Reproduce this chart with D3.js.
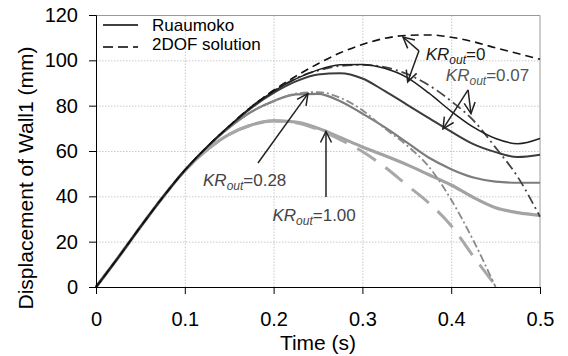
<!DOCTYPE html>
<html>
<head>
<meta charset="utf-8">
<script src="https://cdn.jsdelivr.net/npm/d3@7"></script>
<style>
  body { margin: 0; background: #fff; }
  svg { display: block; font-family: Arial, "Liberation Sans", sans-serif; }
  .grid line { stroke: #c8c8c8; stroke-dasharray: 1.5,1.5; }
  .grid .domain { display: none; }
  .axis text { font-size: 20px; fill: #000; }
  .axis path, .axis line { stroke: #000; }
</style>
</head>
<body>
<svg class="chart"></svg>
<script>
// time grid (s)
var times = [0, 0.025, 0.05, 0.075, 0.1, 0.125, 0.15, 0.175, 0.2, 0.225, 0.25,
             0.275, 0.3, 0.325, 0.35, 0.375, 0.4, 0.425, 0.45, 0.475, 0.5];

// displacement (mm), Ruaumoko
var ruaKR0   = [0, 13, 26.5, 39.5, 51.5, 61.8, 71, 79.5, 86.3, 91.8, 95.8,
                98, 98.2, 96.5, 92.5, 85.5, 77.5, 70.5, 65.5, 63.2, 65.5];
var ruaKR007 = [0, 13, 26.5, 39.5, 51.5, 61.8, 70.8, 79, 85.6, 90.7, 93.8,
                94.3, 92, 86.5, 80.5, 74.5, 68.5, 63, 59.5, 57.3, 58.3];
var ruaKR028 = [0, 13, 26.5, 39.5, 51.5, 61.6, 70.3, 77.3, 82, 85, 85.2,
                82, 76.5, 70.5, 63.8, 57, 52, 48.3, 46.5, 46, 46];
var ruaKR100 = [0, 13, 26.5, 39.5, 51.3, 60.5, 67.3, 71.5, 73.3, 72.8, 70,
                66, 61.8, 58, 54, 49.5, 45, 39.5, 35, 32.8, 31.6];

// displacement (mm), 2DOF solution
var dofKR0   = [0, 13, 26.5, 39.5, 51.5, 61.8, 71, 79.5, 86.8, 93, 98.5,
                103.3, 107, 109.7, 111, 111.2, 110.2, 108.2, 105.5, 103, 100.5];
var dofKR007 = [0, 13, 26.5, 39.5, 51.5, 61.8, 71, 79.5, 86.5, 92, 95.5,
                97.5, 98, 97, 94, 89, 82, 73.5, 61.5, 48.5, 31];
var dofKR028 = [0, 13, 26.5, 39.5, 51.5, 61.6, 70.3, 77.3, 82, 85.3, 86,
                83.5, 78, 70, 62.5, 53, 38.5, 20.5, 0];
var dofKR100 = [0, 13, 26.5, 39.5, 51.3, 60.5, 67.3, 71.5, 73.3, 72.5, 69.5,
                65, 59.8, 53, 45, 37, 27, 13.5, 0.5];

var xTicks = [0, 0.1, 0.2, 0.3, 0.4, 0.5];
var yTicks = [0, 20, 40, 60, 80, 100, 120];

var legendLabels = ["Ruaumoko", "2DOF solution"];

// annotation labels: text, value, label anchor [t, y], arrow start, arrow tips
var notes = [
    {value: "0",    at: [0.3713, 100.1], from: [0.3637, 104.2], tips: [[0.3457, 110.3], [0.351, 90.5]], color: "#1a1a1a"},
    {value: "0.07", at: [0.394, 90.8],   from: [0.419, 87],     tips: [[0.3908, 69.8], [0.4223, 76.5]], color: "#555"},
    {value: "0.28", at: [0.1205, 44.5],  from: [0.1824, 54.7],  tips: [[0.2387, 85.3]], color: "#444"},
    {value: "1.00", at: [0.1987, 29],    from: [0.259, 39.7],   tips: [[0.259, 68.6]], color: "#444"}
];

(function show() {
    'use strict';

    var W = 568, H = 356;
    var margin = {top: 15, bottom: 69, right: 28, left: 96},
        width = W - margin.left - margin.right,
        height = H - margin.top - margin.bottom;

    var svg = d3.select(".chart").attr("width", W).attr("height", H);

    var defs = svg.append("defs");
    defs.append("marker")
        .attr("id", "head")
        .attr("viewBox", "-12 -7 14 14")
        .attr("markerUnits", "userSpaceOnUse")
        .attr("markerWidth", 14).attr("markerHeight", 14)
        .attr("refX", 0).attr("refY", 0)
        .attr("orient", "auto")
        .append("path")
        .attr("d", "M-11,-5.5 L0,0 L-11,5.5")
        .attr("fill", "none")
        .attr("stroke", "#222")
        .attr("stroke-width", 1.5);

    var chart = svg.append("g")
        .attr("transform", "translate(" + margin.left + "," + margin.top + ")");

    var scaleX = d3.scaleLinear().domain([0, 0.5]).range([0, width]);
    var scaleY = d3.scaleLinear().domain([0, 120]).range([height, 0]);

    // gridlines
    chart.append("g").attr("class", "grid")
        .call(d3.axisLeft(scaleY).tickValues(yTicks.slice(1, -1)).tickSize(-width).tickFormat(""));
    chart.append("g").attr("class", "grid")
        .attr("transform", "translate(0," + height + ")")
        .call(d3.axisBottom(scaleX).tickValues(xTicks.slice(1, -1)).tickSize(-height).tickFormat(""));

    // top and right border
    chart.append("path")
        .attr("d", "M0,0.5 H" + width + " V" + height)
        .attr("fill", "none")
        .attr("stroke", "#9a9a9a");

    var line = d3.line()
        .x(function(d) { return scaleX(d[0]); })
        .y(function(d) { return scaleY(d[1]); })
        .curve(d3.curveMonotoneX);

    function pts(vals) {
        return vals.map(function(v, i) { return [times[i], v]; });
    }

    var series = [
        {vals: ruaKR100, color: "#a3a3a3", w: 3.2, dash: null},
        {vals: dofKR100, color: "#a8a8a8", w: 3,   dash: "22,12"},
        {vals: ruaKR028, color: "#7c7c7c", w: 2.2, dash: null},
        {vals: dofKR028, color: "#8a8a8a", w: 1.8, dash: "8,3,2,3"},
        {vals: ruaKR007, color: "#3c3c3c", w: 2,   dash: null},
        {vals: dofKR007, color: "#444",    w: 1.8, dash: "10,4,2,4"},
        {vals: ruaKR0,   color: "#1e1e1e", w: 1.5, dash: null},
        {vals: dofKR0,   color: "#111",    w: 1.6, dash: "8,5"}
    ];

    chart.append("g").selectAll("path")
        .data(series)
        .enter().append("path")
        .attr("d", function(d) { return line(pts(d.vals)); })
        .attr("fill", "none")
        .attr("stroke", function(d) { return d.color; })
        .attr("stroke-width", function(d) { return d.w; })
        .attr("stroke-dasharray", function(d) { return d.dash; });

    // axes
    var fmt = d3.format("~g");
    chart.append("g").attr("class", "axis")
        .attr("transform", "translate(0," + height + ")")
        .call(d3.axisBottom(scaleX).tickValues(xTicks).tickFormat(fmt).tickSizeOuter(0).tickSize(7).tickPadding(18));
    chart.append("g").attr("class", "axis")
        .call(d3.axisLeft(scaleY).tickValues(yTicks).tickSizeOuter(0).tickSize(7).tickPadding(11));

    chart.append("text")
        .attr("x", width / 2).attr("y", height + 63)
        .attr("text-anchor", "middle")
        .style("font-size", "21px")
        .text("Time (s)");

    // y title centred on the whole chart height
    svg.append("text")
        .attr("transform", "translate(33," + (H / 2) + ") rotate(-90)")
        .attr("text-anchor", "middle")
        .style("font-size", "21px")
        .text("Displacement of Wall1 (mm)");

    // legend
    var legend = chart.append("g").attr("transform", "translate(7,0)");
    legend.selectAll("line")
        .data(legendLabels)
        .enter().append("line")
        .attr("x1", 0).attr("x2", 35)
        .attr("y1", function(d, i) { return 10 + i * 22; })
        .attr("y2", function(d, i) { return 10 + i * 22; })
        .attr("stroke", "#000")
        .attr("stroke-width", 1.3)
        .attr("stroke-dasharray", function(d, i) { return i ? "10,5" : null; });
    legend.selectAll("text")
        .data(legendLabels)
        .enter().append("text")
        .attr("x", 49)
        .attr("y", function(d, i) { return 16 + i * 19; })
        .style("font-size", "17px")
        .text(function(d) { return d; });

    // annotations
    var ann = chart.append("g");
    notes.forEach(function(n) {
        n.tips.forEach(function(tp) {
            ann.append("line")
                .attr("x1", scaleX(n.from[0])).attr("y1", scaleY(n.from[1]))
                .attr("x2", scaleX(tp[0])).attr("y2", scaleY(tp[1]))
                .attr("stroke", "#222")
                .attr("stroke-width", 1.5)
                .attr("marker-end", "url(#head)");
        });
        var t = ann.append("text")
            .attr("x", scaleX(n.at[0])).attr("y", scaleY(n.at[1]))
            .style("font-size", "17px")
            .attr("fill", n.color);
        t.append("tspan").style("font-style", "italic").text("KR");
        t.append("tspan").style("font-style", "italic").style("font-size", "12px")
            .attr("dy", 4).text("out");
        t.append("tspan").attr("dy", -4).text("=" + n.value);
    });
})();
</script>
</body>
</html>
